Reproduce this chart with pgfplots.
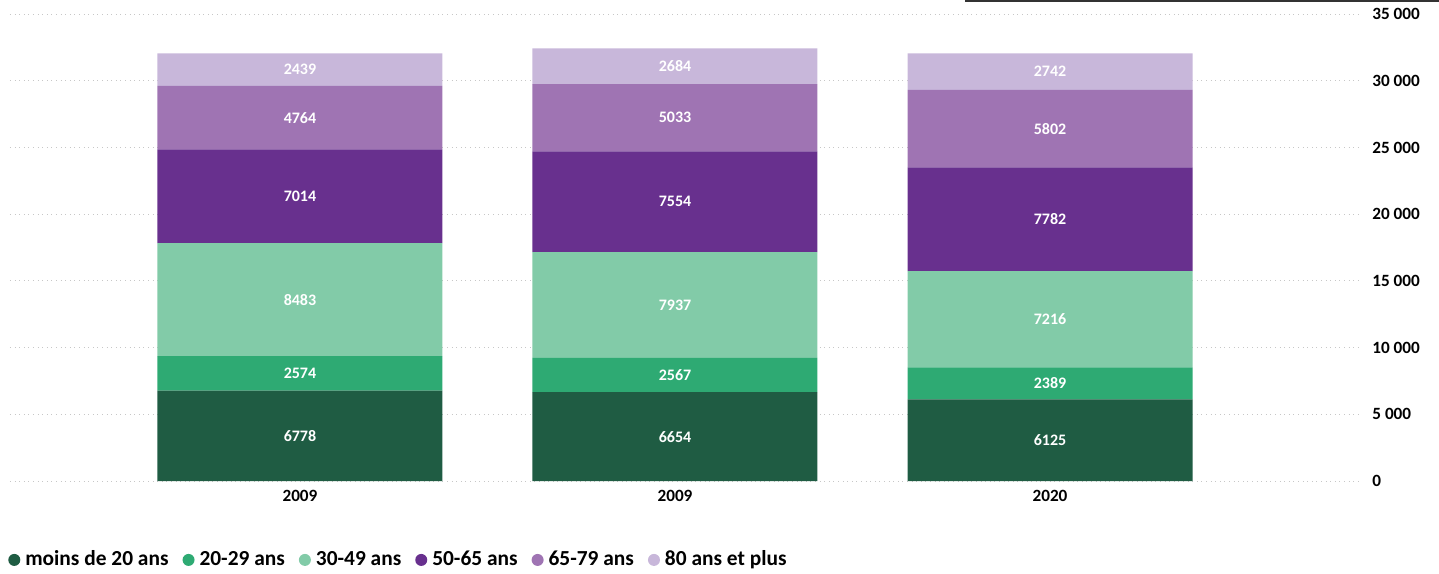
\documentclass[border=0pt]{standalone}
\usepackage{pgfplots}
\pgfplotsset{compat=1.18}
\usepackage{pgfplotstable}
\usepackage{fontspec}
\setmainfont{Carlito}
\definecolor{c1}{HTML}{1F5C43}
\definecolor{c2}{HTML}{2EAA73}
\definecolor{c3}{HTML}{82CBA8}
\definecolor{c4}{HTML}{68308E}
\definecolor{c5}{HTML}{9F74B3}
\definecolor{c6}{HTML}{C8B7DA}
\pgfplotstableread{
x a b c d e f
0 6778 2574 8483 7014 4764 2439
1 6654 2567 7937 7554 5033 2684
2 6125 2389 7216 7782 5802 2742
}\data
\begin{document}
\begin{tikzpicture}
\begin{axis}[
  at={(5pt,46pt)}, anchor=south west,
  scale only axis, width=675pt, height=233.5pt,
  ybar stacked, bar width=142.5pt,
  xmin=-0.7733, xmax=2.8267, ymin=0, ymax=35000,
  xtick={0,1,2}, xticklabels={2009,2009,2020},
  ytick={0,5000,10000,15000,20000,25000,30000,35000},
  yticklabels={0,5~000,10~000,15~000,20~000,25~000,30~000,35~000},
  scaled y ticks=false,
  /pgf/number format/1000 sep={},
  /pgf/number format/assume math mode=true,
  yticklabel pos=right,
  axis line style={draw=none}, major tick length=0pt,
  ymajorgrids, grid style={draw=black!22, line width=0.5pt, dash pattern=on 0.5pt off 1.8pt},
  tick label style={font=\fontsize{8.6}{10}\selectfont\bfseries, text=black},
  yticklabel style={anchor=west, inner sep=0pt, xshift=6pt},
  xticklabel style={anchor=north, inner sep=0pt, yshift=-4.5pt},
  nodes near coords, point meta=explicit,
  every node near coord/.append style={anchor=center, font=\fontsize{8}{9.6}\selectfont\bfseries, text=white},
  legend columns=-1,
  legend image code/.code={\fill[#1] (0pt,0pt) circle (3pt);},
  legend style={draw=none, fill=none, at={(-0.006,-0.169)}, anchor=west, font=\fontsize{10.7}{12}\selectfont\bfseries, nodes={inner xsep=2.5pt}, /tikz/every even column/.append style={column sep=4.5pt}},
]
\addplot[fill=c1, draw=none] table[x=x, y=a, meta=a] {\data};
\addplot[fill=c2, draw=none] table[x=x, y=b, meta=b] {\data};
\addplot[fill=c3, draw=none] table[x=x, y=c, meta=c] {\data};
\addplot[fill=c4, draw=none] table[x=x, y=d, meta=d] {\data};
\addplot[fill=c5, draw=none] table[x=x, y=e, meta=e] {\data};
\addplot[fill=c6, draw=none] table[x=x, y=f, meta=f] {\data};
\legend{moins de 20 ans,20-29 ans,30-49 ans,50-65 ans,65-79 ans,80 ans et plus}
\end{axis}
\draw[line width=1.25pt, color=black!80] (482.5pt,285.9pt) -- (719.5pt,285.9pt);
\pgfresetboundingbox
\useasboundingbox (0,0) rectangle (719.5pt,286.5pt);
\end{tikzpicture}
\end{document}
